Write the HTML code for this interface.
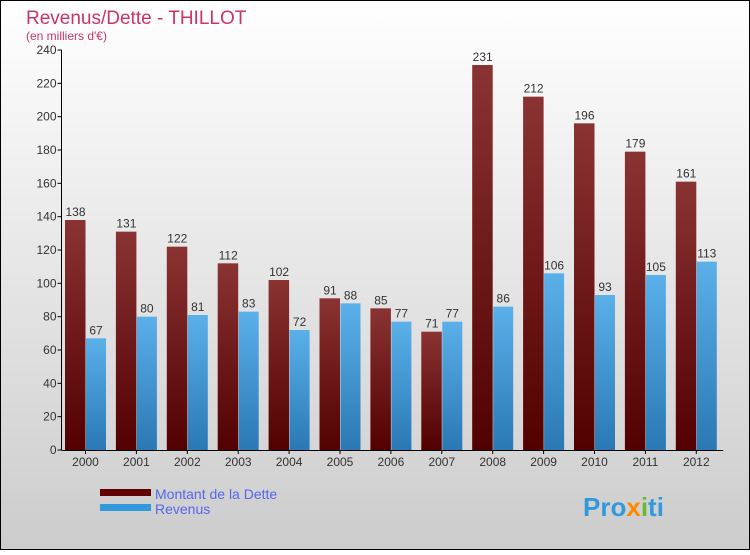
<!DOCTYPE html>
<html><head><meta charset="utf-8"><style>
body{margin:0}
#c{width:750px;height:550px;position:relative;font-family:"Liberation Sans",sans-serif;}
</style></head><body>
<div id="c">
<svg width="750" height="550" xmlns="http://www.w3.org/2000/svg">
<defs>
<linearGradient id="bg" x1="0" y1="0" x2="0" y2="1"><stop offset="0" stop-color="#ffffff"/><stop offset="1" stop-color="#cccccc"/></linearGradient>
<linearGradient id="gd" x1="0" y1="0" x2="0" y2="1"><stop offset="0" stop-color="#8a3333"/><stop offset="1" stop-color="#520000"/></linearGradient>
<linearGradient id="gr" x1="0" y1="0" x2="0" y2="1"><stop offset="0" stop-color="#5bb0ea"/><stop offset="1" stop-color="#2a78b4"/></linearGradient>
</defs>
<rect x="0.5" y="0.5" width="749" height="549" fill="url(#bg)" stroke="#000"/>
<text x="26" y="24" font-size="19" fill="#cc3366">Revenus/Dette - THILLOT</text>
<text x="26" y="40" font-size="12" fill="#cc3366">(en milliers d'€)</text>
<g id="plot"></g>
<rect x="100" y="489" width="51" height="7" fill="#600000"/>
<text x="155" y="499" font-size="14" fill="#5566ee">Montant de la Dette</text>
<rect x="100" y="504" width="51" height="7" fill="#3399dd"/>
<text x="155" y="514" font-size="14" fill="#5566ee">Revenus</text>
<text x="583" y="516" font-size="26" font-weight="bold" fill="#3399dd">Pro<tspan fill="#ff8800">x</tspan><tspan fill="#66bb33">i</tspan>ti</text>
</svg>
</div>
<script>
const years=["2000","2001","2002","2003","2004","2005","2006","2007","2008","2009","2010","2011","2012"];
const dette=[138,131,122,112,102,91,85,71,231,212,196,179,161];
const revenus=[67,80,81,83,72,88,77,77,86,106,93,105,113];
const yTicks=[0,20,40,60,80,100,120,140,160,180,200,220,240];
const NS="http://www.w3.org/2000/svg";
const g=document.getElementById('plot');
const x0=61.5,y0=450,yMax=240,yTop=50,gw=50.9;
const y=v=>y0-(v/yMax)*(y0-yTop);
function mk(t,a){const e=document.createElementNS(NS,t);for(const k in a)e.setAttribute(k,a[k]);g.appendChild(e);return e;}
yTicks.forEach(v=>{
 const l=mk('line',{x1:x0-4,x2:x0,y1:y(v),y2:y(v),stroke:'#000'});
 
 
 const t=mk('text',{x:x0-5,y:y(v)+4,'font-size':12,fill:'#333','text-anchor':'end'});
 t.textContent=v;
 
 
});
years.forEach((yr,i)=>{
 const gx=x0+i*gw;
 const bd=mk('rect',{x:gx+3.5,y:y(dette[i]),width:20.5,height:y0-y(dette[i]),fill:'url(#gd)'});
 
 
 const br=mk('rect',{x:gx+24.5,y:y(revenus[i]),width:20,height:y0-y(revenus[i]),fill:'url(#gr)'});
 
 
 const td=mk('text',{x:gx+14,y:y(dette[i])-4,'font-size':12,fill:'#333','text-anchor':'middle'});
 td.textContent=dette[i];
 
 
 const tr=mk('text',{x:gx+34.5,y:y(revenus[i])-4,'font-size':12,fill:'#333','text-anchor':'middle'});
 tr.textContent=revenus[i];
 
 
 const tk=mk('line',{x1:gx+24,x2:gx+24,y1:y0,y2:y0+4,stroke:'#000'});
 
 
 const xl=mk('text',{x:gx+24,y:y0+16,'font-size':12,fill:'#333','text-anchor':'middle'});
 xl.textContent=yr;
 
 
});
const ya=mk('line',{x1:x0,x2:x0,y1:yTop,y2:y0,stroke:'#000'});


const xa=mk('line',{x1:x0,x2:x0+13*gw,y1:y0+0.5,y2:y0+0.5,stroke:'#000'});


</script>
</body></html>
